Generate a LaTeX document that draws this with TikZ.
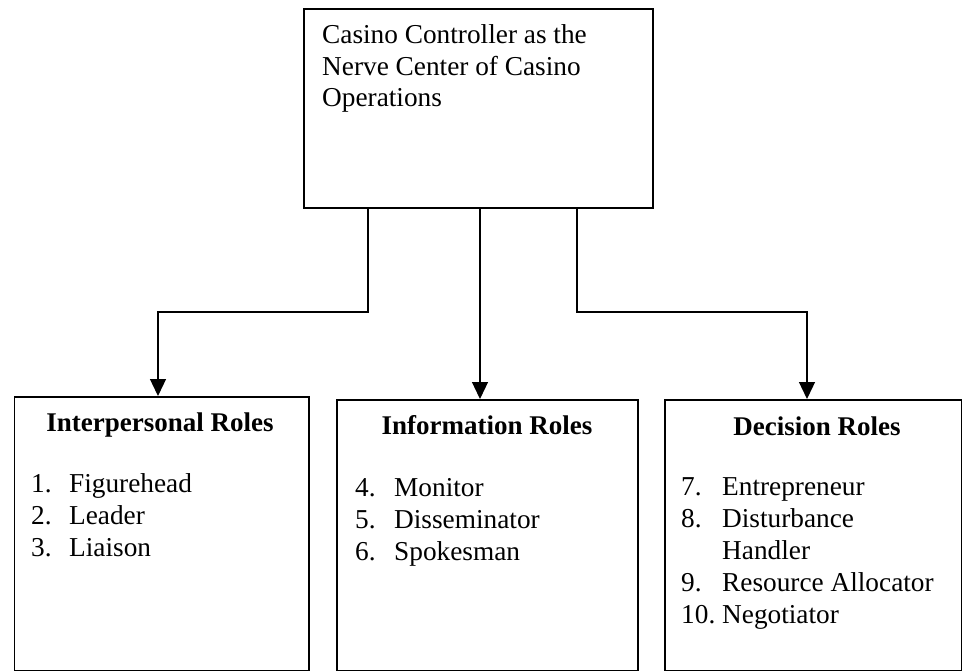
\documentclass[tikz,border=0pt]{standalone}
\usepackage{fontspec}
\setmainfont{Liberation Serif}
\usetikzlibrary{arrows.meta}
\begin{document}
\begin{tikzpicture}[x=1pt,y=-1pt,
  box/.style={draw, line width=1.6pt, rectangle, inner sep=0pt, anchor=north west},
  arr/.style={line width=1.3pt, -{Triangle[width=16pt,length=17pt]}},
  txt/.style={anchor=base west, inner sep=0pt, font=\fontsize{27.3}{31.5}\selectfont},
  lst/.style={anchor=base west, inner sep=0pt, font=\fontsize{27.3}{32}\selectfont},
  ttl/.style={anchor=base, inner sep=0pt, font=\fontsize{27}{32}\selectfont\bfseries}]
\useasboundingbox (0,0) rectangle (962,671);
% boxes
\node[box, minimum width=349pt, minimum height=199pt] (top) at (303,8.5) {};
\node[box, minimum width=294.5pt, minimum height=274pt] (left) at (13.5,396) {};
\node[box, minimum width=301pt, minimum height=271pt] (mid) at (336,399) {};
\node[box, minimum width=296.5pt, minimum height=271pt] (right) at (664,399) {};
% texts
\node[txt] (toptext) at (322,44) {\begin{tabular}[t]{@{}l@{}}Casino Controller as the\\Nerve Center of Casino\\Operations\end{tabular}};
\node[ttl] (t1) at (160,431) {Interpersonal Roles};
\node[ttl] (t2) at (487,434) {Information Roles};
\node[ttl] (t3) at (817,435) {Decision Roles};
\node[lst] (l1) at (31,492) {\begin{tabular}[t]{@{}l@{}}\makebox[38pt][l]{1.}Figurehead\\\makebox[38pt][l]{2.}Leader\\\makebox[38pt][l]{3.}Liaison\end{tabular}};
\node[lst] (l2) at (355,496) {\begin{tabular}[t]{@{}l@{}}\makebox[39pt][l]{4.}Monitor\\\makebox[39pt][l]{5.}Disseminator\\\makebox[39pt][l]{6.}Spokesman\end{tabular}};
\node[lst] (l3) at (681,495) {\begin{tabular}[t]{@{}l@{}}\makebox[41pt][l]{7.}Entrepreneur\\\makebox[41pt][l]{8.}Disturbance\\\makebox[41pt][l]{}Handler\\\makebox[41pt][l]{9.}Resource Allocator\\\makebox[41pt][l]{10.}Negotiator\end{tabular}};
% connector bends
\coordinate (a1) at (368,312);
\coordinate (a2) at (158,312);
\coordinate (b1) at (480,312);
\coordinate (c1) at (577,312);
\coordinate (c2) at (807,312);
% connectors
\draw[arr] (top.south -| a1) -- (a1) -- (a2) -- (left.north -| a2);
\draw[arr] (top.south -| b1) -- (mid.north -| b1);
\draw[arr] (top.south -| c1) -- (c1) -- (c2) -- (right.north -| c2);
\end{tikzpicture}
\end{document}
